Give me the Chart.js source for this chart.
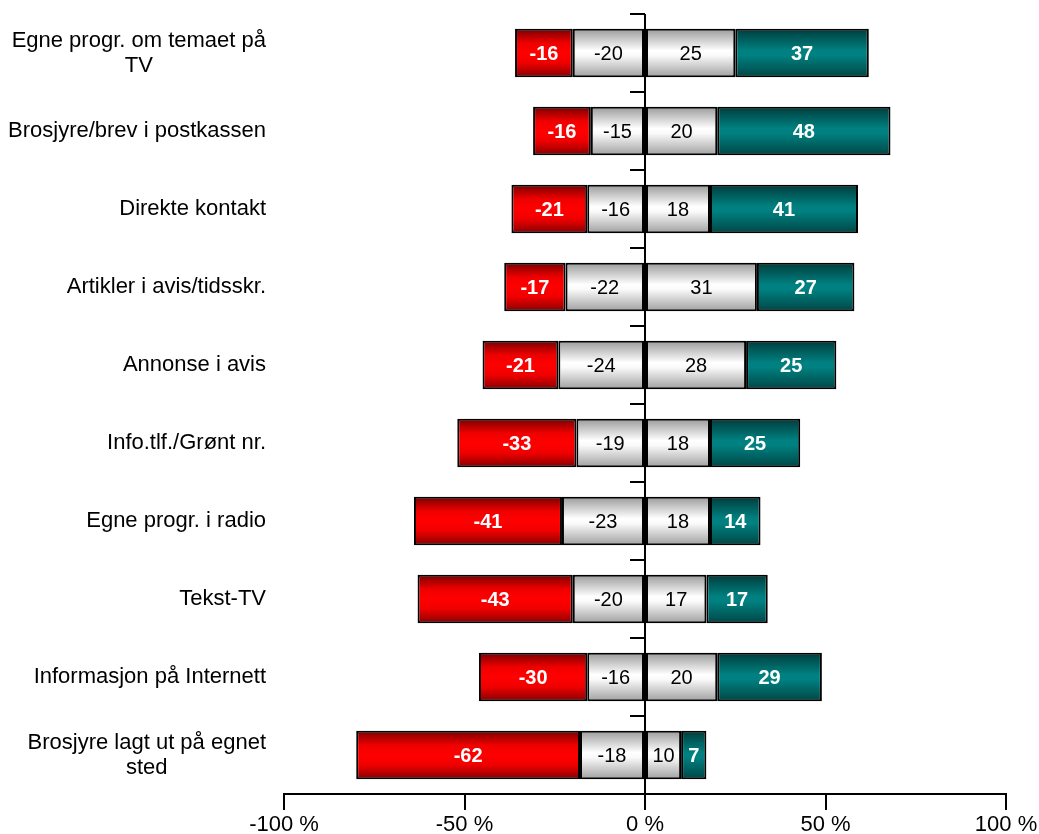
<!DOCTYPE html>
<html>
<head>
<meta charset="utf-8">
<script src="https://cdn.jsdelivr.net/npm/chart.js@4/dist/chart.umd.min.js"></script>
<style>
  html, body { margin: 0; padding: 0; background: #fff; }
  #wrap { width: 1039px; height: 834px; }
</style>
</head>
<body>
<div id="wrap"><canvas id="result_chart"></canvas></div>
<script>
const categories = [
    ['Egne progr. om temaet på', 'TV'],
    ['Brosjyre/brev i postkassen'],
    ['Direkte kontakt'],
    ['Artikler i avis/tidsskr.'],
    ['Annonse i avis'],
    ['Info.tlf./Grønt nr.'],
    ['Egne progr. i radio'],
    ['Tekst-TV'],
    ['Informasjon på Internett'],
    ['Brosjyre lagt ut på egnet', 'sted']
];
const veryNegative = [-16, -16, -21, -17, -21, -33, -41, -43, -30, -62];
const negative = [-20, -15, -16, -22, -24, -19, -23, -20, -16, -18];
const positive = [25, 20, 18, 31, 28, 18, 18, 17, 20, 10];
const veryPositive = [37, 48, 41, 27, 25, 25, 14, 17, 29, 7];
const xTicks = [-100, -50, 0, 50, 100];

const FONT = "Arial, 'Liberation Sans', sans-serif";
const BAR_PCT = 0.62;

// vertical gradient across one bar
function barGradient(stops) {
    return (ctx) => {
        const chart = ctx.chart;
        const y = chart.scales.y;
        if (!y || !chart.chartArea || ctx.type !== 'data') return stops[Math.floor(stops.length / 2)][1];
        const c = y.getPixelForValue(ctx.dataIndex);
        const half = Math.abs(y.getPixelForValue(1) - y.getPixelForValue(0)) * BAR_PCT / 2;
        const g = chart.ctx.createLinearGradient(0, c - half, 0, c + half);
        stops.forEach(s => g.addColorStop(s[0], s[1]));
        return g;
    };
}

const redStops = [[0, '#7a0000'], [0.3, '#f00000'], [0.5, '#ff0000'], [0.7, '#f00000'], [1, '#8a0000']];
const greyStops = [[0, '#9a9a9a'], [0.45, '#ffffff'], [0.55, '#fafafa'], [1, '#a0a0a0']];
const tealStops = [[0, '#003c3c'], [0.45, '#008080'], [0.55, '#008080'], [1, '#004646']];

const zeroLine = {
    id: 'zeroLine',
    beforeDatasetsDraw(chart) {
        const {ctx, chartArea, scales: {x, y}} = chart;
        const x0 = x.getPixelForValue(0);
        ctx.save();
        ctx.strokeStyle = '#000';
        ctx.lineWidth = 2;
        ctx.beginPath();
        ctx.moveTo(x0, chartArea.top);
        ctx.lineTo(x0, chartArea.bottom);
        for (let i = 0; i <= categories.length; i++) {
            const yy = Math.round(y.getPixelForValue(i - 0.5));
            ctx.moveTo(x0 - 15, yy);
            ctx.lineTo(x0, yy);
        }
        ctx.stroke();
        ctx.restore();
    }
};

const labels = {
    id: 'labels',
    afterDatasetsDraw(chart) {
        const {ctx, scales: {y}} = chart;
        ctx.save();
        // category labels: block right-aligned, lines centred
        ctx.font = '22px ' + FONT;
        ctx.fillStyle = '#000';
        ctx.textAlign = 'center';
        ctx.textBaseline = 'middle';
        const right = 266;
        const lh = 25;
        categories.forEach((lines, i) => {
            const w = Math.max(...lines.map(l => ctx.measureText(l).width));
            const cy = y.getPixelForValue(i);
            lines.forEach((l, k) => {
                ctx.fillText(l, right - w / 2, cy + (k - (lines.length - 1) / 2) * lh);
            });
        });
        // value labels
        chart.data.datasets.forEach((ds, di) => {
            const meta = chart.getDatasetMeta(di);
            ctx.font = (ds.bold ? 'bold ' : '') + '20px ' + FONT;
            ctx.fillStyle = ds.textColor;
            meta.data.forEach((bar, j) => {
                const p = bar.getCenterPoint();
                ctx.fillText(String(ds.data[j]), p.x, p.y + 1);
            });
        });
        ctx.restore();
    }
};

const common = {
    borderColor: '#000',
    borderWidth: 2,
    borderSkipped: false,
    barPercentage: BAR_PCT,
    categoryPercentage: 1
};

const data = {
    labels: categories.map(c => c.join(' ')),
    datasets: [
        {...common, label: 'neg', data: negative, backgroundColor: barGradient(greyStops), textColor: '#000', bold: false},
        {...common, label: 'veryneg', data: veryNegative, backgroundColor: barGradient(redStops), textColor: '#fff', bold: true},
        {...common, label: 'pos', data: positive, backgroundColor: barGradient(greyStops), textColor: '#000', bold: false},
        {...common, label: 'verypos', data: veryPositive, backgroundColor: barGradient(tealStops), textColor: '#fff', bold: true}
    ]
};

const config = {
    type: 'bar',
    data,
    options: {
        indexAxis: 'y',
        responsive: true,
        maintainAspectRatio: false,
        animation: false,
        layout: { padding: { top: 14, right: 33, bottom: 0, left: 0 } },
        plugins: { legend: { display: false }, tooltip: { enabled: false } },
        scales: {
            x: {
                stacked: true,
                min: -100,
                max: 100,
                afterBuildTicks: (scale) => { scale.ticks = xTicks.map(v => ({value: v})); },
                afterFit: (scale) => {
                    scale.height = 40;
                    scale.paddingLeft = 0;
                    scale.paddingRight = 0;
                },
                ticks: {
                    callback: (v) => v + ' %',
                    color: '#000',
                    font: { family: FONT, size: 22, lineHeight: 1 },
                    padding: 4,
                    maxRotation: 0
                },
                grid: { drawOnChartArea: false, tickLength: 16, color: '#000', lineWidth: 2 },
                border: { color: '#000', width: 2 }
            },
            y: {
                stacked: true,
                ticks: { display: false },
                grid: { display: false },
                border: { display: false },
                afterFit: (scale) => { scale.width = 284; }
            }
        }
    },
    plugins: [zeroLine, labels]
};

document.addEventListener('DOMContentLoaded', () => {
    const ctx = document.getElementById('result_chart').getContext('2d');
    new Chart(ctx, config);
});
</script>
</body>
</html>
